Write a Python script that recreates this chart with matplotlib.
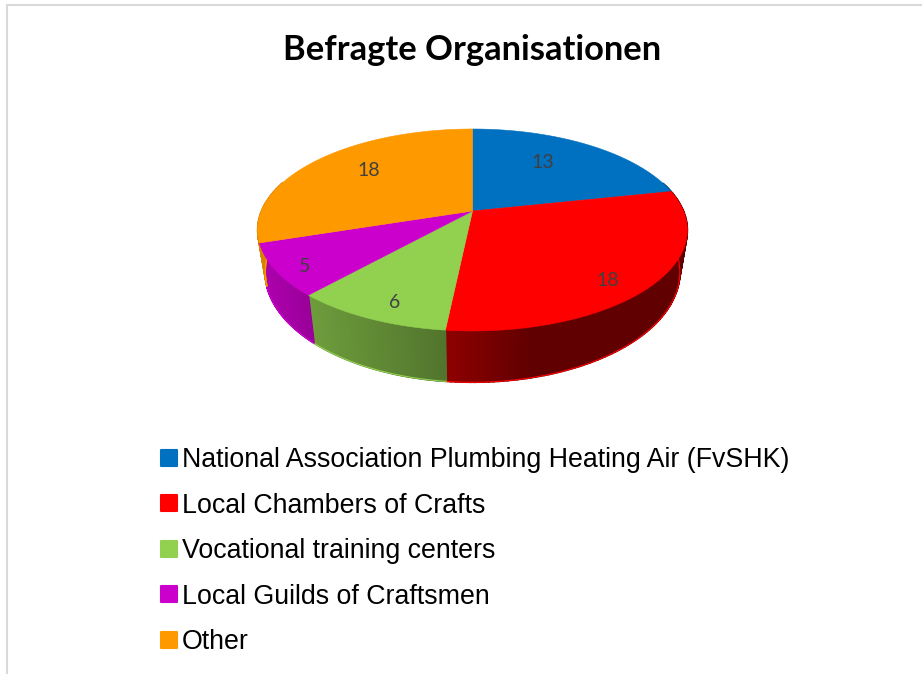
import numpy as np
import matplotlib
matplotlib.use('Agg')
import matplotlib.pyplot as plt
from matplotlib.lines import Line2D
from matplotlib.markers import MarkerStyle

title = 'Befragte Organisationen'
categories = ['National Association Plumbing Heating Air (FvSHK)',
              'Local Chambers of Crafts',
              'Vocational training centers',
              'Local Guilds of Craftsmen',
              'Other']
values = [13, 18, 6, 5, 18]
colors = ['#0070c0', '#ff0000', '#92d050', '#cc00cc', '#ff9900']

# pie geometry in pixels, perspective view
cx, cy = 472.5, 211.0
rx, ry, k = 211.0, 97.4, 0.188
label_pos = [(543, 162), (608, 280), (395, 302), (305, 266), (369, 170)]


def top_face(t, r=1.0):
    x, y = r*np.sin(t), r*np.cos(t)
    d = 1 + k*y
    return cx + rx*x/d, cy - ry*y/d


def bottom_face(t):
    x, y = np.sin(t), np.cos(t)
    d = 1 + k*y
    return cx + 0.965*rx*x/d, cy + 40.5 - 1.09*ry*y/d


def shade(x):
    # side wall gets darker towards the right
    return np.interp(x, [260, 310, 445, 530, 690], [0.85, 0.75, 0.56, 0.38, 0.38])


fig = plt.figure(figsize=(9.22, 6.74), dpi=100)
ax = fig.add_axes([0, 0, 1, 1])
ax.set_xlim(0, 922)
ax.set_ylim(674, 0)
ax.axis('off')

# chart frame
ax.plot([6.5, 6.5, 922], [674, 5, 5], color='#d9d9d9', lw=1.5)

angles = np.cumsum([0] + values)/sum(values)*2*np.pi

# side wall
for i in range(len(values)):
    tt = np.linspace(angles[i], angles[i+1], 100)
    rgb = np.array(matplotlib.colors.to_rgb(colors[i]))
    for a, b in zip(tt[:-1], tt[1:]):
        if np.cos((a + b)/2) > 0.3:
            continue
        x1, y1 = top_face(np.array([a, b]))
        x2, y2 = bottom_face(np.array([a, b]))
        c = rgb*shade((x1[0] + x1[1])/2)
        ax.fill([x1[0], x1[1], x2[1], x2[0]], [y1[0], y1[1], y2[1], y2[0]],
                color=c, lw=1.2, zorder=2)
    # thin bright rim under the wall
    mask = np.cos(tt) < 0.3
    if mask.any():
        xb, yb = bottom_face(tt[mask])
        ax.plot(xb, yb, color=colors[i], lw=0.8, zorder=3)

# top face
for i in range(len(values)):
    tt = np.linspace(angles[i], angles[i+1], 150)
    x, y = top_face(tt)
    ax.fill(np.r_[cx, x], np.r_[cy, y], color=colors[i], lw=0.4, zorder=4)

for v, (lx, ly) in zip(values, label_pos):
    ax.text(lx, ly, str(v), ha='center', va='center', fontsize=14,
            family='Lato', color='#404040', zorder=5)

ax.text(472, 50.5, title, ha='center', va='center', fontsize=24.8,
        family='Lato', weight='bold', color='black')

marker = MarkerStyle('s', joinstyle='round')
handles = [Line2D([], [], linestyle='', marker=marker, markersize=11.5, markeredgewidth=1.5,
                  color=c) for c in colors]
ax.legend(handles, categories, loc='upper left', bbox_to_anchor=(160/922, 1 - 447/674),
          frameon=False, prop={'family': 'Liberation Sans', 'size': 19.3},
          handlelength=0.7, handletextpad=0.12, labelspacing=0.73,
          borderpad=0, borderaxespad=0)

fig.savefig('out.png', dpi=100)
